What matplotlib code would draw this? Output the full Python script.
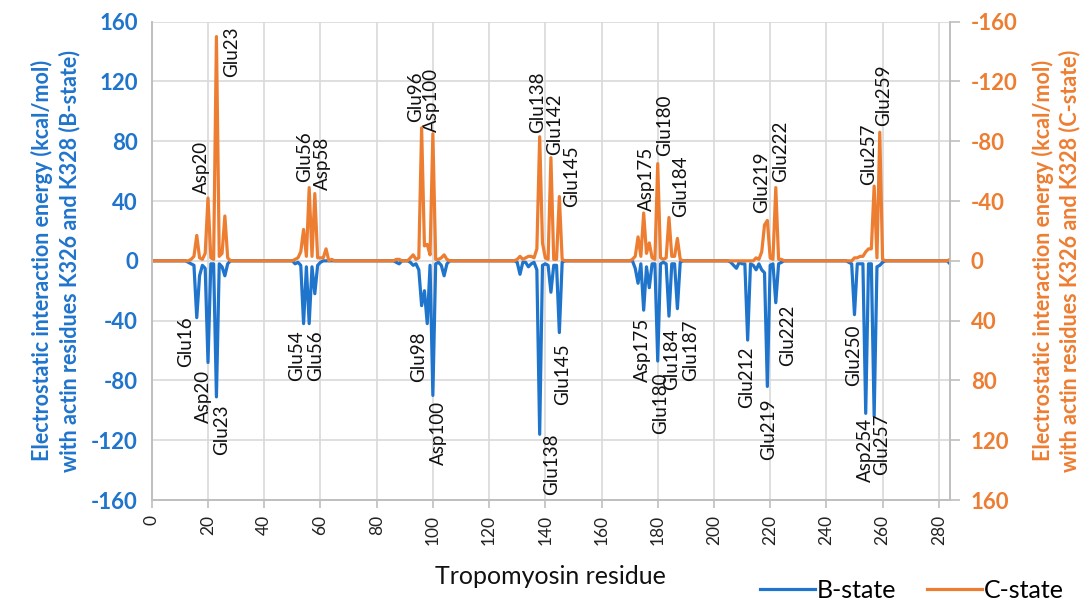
import matplotlib
matplotlib.use("Agg")
import matplotlib.pyplot as plt
import numpy as np

plt.rcParams['font.family'] = ['Lato', 'DejaVu Sans']
plt.rcParams['axes.unicode_minus'] = False

# tropomyosin residues 1..284
n_res = 284

# B-state, non-zero residues (kcal/mol)
b_res = [13, 14, 15, 16, 17, 18, 19, 20, 21, 22, 23, 24, 25, 26, 27,
         51, 52, 53, 54, 55, 56, 57, 58, 59, 60,
         87, 88, 92, 93, 94, 95, 96, 97, 98, 99, 100, 101, 102, 103, 104, 105,
         130, 131, 132, 133, 134, 135, 136, 137, 138, 139, 140, 141, 142, 143, 144, 145, 146,
         172, 173, 174, 175, 176, 177, 178, 179, 180, 181, 182, 183, 184, 185, 186, 187, 188,
         206, 207, 208, 209, 210, 211, 212, 213, 214, 215, 216, 217, 218, 219, 220, 221, 222, 223, 224,
         248, 249, 250, 251, 252, 253, 254, 255, 256, 257, 258, 259, 260, 284]
b_val = [-1, -2, -3, -38, -10, -3, -5, -68, -2, -2, -91, -2, -4, -10, -2,
         -2, -1, -3, -42, -4, -42, -4, -22, -3, -1,
         -1, -2, -1, -3, -2, -6, -30, -20, -42, -3, -90, -2, -1, -3, -10, -2,
         -1, -9, -1, -1, -4, -2, -1, -6, -116, -3, -2, -3, -21, -3, -3, -48, -1,
         -5, -15, -2, -33, -4, -18, -2, -2, -67, -2, -1, -2, -37, -2, -2, -32, -1,
         -1, -3, -5, -1, -2, -2, -53, -2, -3, -6, -2, -6, -8, -84, -3, -2, -28, -2, -1,
         -1, -2, -36, -2, -2, -2, -102, -2, -2, -104, -4, -3, -1, -2]

# C-state, non-zero residues (kcal/mol)
c_res = [14, 15, 16, 17, 18, 19, 20, 21, 22, 23, 24, 25, 26, 27,
         51, 52, 53, 54, 55, 56, 57, 58, 59, 60, 61, 62, 64,
         87, 88, 92, 93, 94, 95, 96, 97, 98, 99, 100, 101, 102, 103, 104, 105,
         130, 131, 132, 133, 134, 135, 136, 137, 138, 139, 140, 141, 142, 143, 144, 145, 146,
         171, 172, 173, 174, 175, 176, 177, 178, 179, 180, 181, 182, 183, 184, 185, 186, 187, 188,
         215, 216, 217, 218, 219, 220, 221, 222, 223, 224,
         250, 251, 252, 253, 254, 255, 256, 257, 258, 259, 260, 284]
c_val = [-1, -3, -17, -2, -1, -5, -42, -2, -1, -150, -3, -5, -30, -2,
         -1, -2, -6, -21, -3, -49, -3, -45, -2, -2, -2, -8, -1,
         -1, -1, -2, -4, -1, -2, -89, -10, -11, -4, -85, -1, -1, -2, -4, -1,
         -1, -3, -1, -2, -3, -3, -2, -8, -83, -12, -2, -1, -69, -1, -1, -43, -1,
         -1, -3, -16, -3, -32, -5, -12, -2, -1, -65, -2, -1, -2, -29, -3, -3, -15, -1,
         -2, -1, -6, -24, -27, -2, -1, -49, -1, -1,
         -2, -2, -3, -3, -6, -8, -8, -50, -2, -86, -1, -1]

x_ticks = [0, 20, 40, 60, 80, 100, 120, 140, 160, 180, 200, 220, 240, 260, 280]
y_ticks = [-160, -120, -80, -40, 0, 40, 80, 120, 160]

# data labels: orange ones above the zero line, blue ones below
c_labels = ["Glu23", "Asp20", "Glu56", "Asp58", "Glu96", "Asp100", "Glu138", "Glu142",
            "Glu145", "Asp175", "Glu180", "Glu184", "Glu219", "Glu222", "Glu257", "Glu259"]
c_label_pos = [(28.5, 123), (17.8, 45), (54.2, 53), (60.8, 47.5), (93.7, 93), (99.6, 86.5),
               (137.2, 85.4), (143.3, 71), (149.2, 36.3), (176.1, 33), (182.3, 70), (188, 29.6),
               (217.1, 32), (223.6, 53), (255, 51), (260.4, 90)]
b_labels = ["Glu16", "Asp20", "Glu23", "Glu54", "Glu56", "Glu98", "Asp100", "Glu138", "Glu145",
            "Asp175", "Glu180", "Glu184", "Glu187", "Glu212", "Glu219", "Glu222", "Glu250",
            "Asp254", "Glu257"]
b_label_pos = [(12.2, -37.3), (18.4, -73), (24.7, -96.3), (51.6, -46.2), (58.4, -46.2),
               (94.9, -47.3), (102, -94), (142.3, -115.3), (146.1, -55), (174.7, -38.3),
               (180.9, -75), (185, -45), (191.6, -39.5), (211.7, -57.3), (219.4, -92),
               (226.2, -29.4), (249.7, -42.8), (254, -105), (259.8, -102)]

blue = '#1F74CC'
orange = '#ED7D31'
grid_c = '#D9D9D9'
spine_c = '#BFBFBF'

residue = np.arange(1, n_res + 1)
b_state = np.zeros(n_res)
b_state[np.array(b_res) - 1] = b_val
c_state = np.zeros(n_res)
c_state[np.array(c_res) - 1] = c_val

fig = plt.figure(figsize=(10.92, 6.01), dpi=100)
ax = fig.add_axes([0.139, 0.168, 0.731, 0.796])
ax2 = ax.twinx()

l1, = ax.plot(residue, b_state, color=blue, lw=2.3, label='B-state')
l2, = ax2.plot(residue, c_state, color=orange, lw=2.3, label='C-state')

ax.set_xlim(0, 284)
ax.set_ylim(-160, 160)
ax2.set_ylim(160, -160)
ax.set_xticks(x_ticks, labels=[str(v) for v in x_ticks], rotation=90,
              fontsize=12.5, color='#222222', va='top', ha='center')
ax.set_yticks(y_ticks, labels=[str(v) for v in y_ticks], fontsize=16,
              fontweight='bold', color=blue)
ax2.set_yticks(y_ticks, labels=[str(v) for v in y_ticks], fontsize=16,
               fontweight='bold', color=orange)

ax.grid(True, color=grid_c, lw=1.2)
ax.set_axisbelow(True)
ax.spines['top'].set_visible(False)
ax2.spines['top'].set_visible(False)
for s in ['left', 'bottom', 'right']:
    ax.spines[s].set_color(spine_c)
    ax2.spines[s].set_color(spine_c)
    ax.spines[s].set_linewidth(1.2)
    ax2.spines[s].set_linewidth(1.2)

ax.tick_params(axis='x', direction='out', length=6, width=1.2, color=spine_c, pad=5)
ax.tick_params(axis='y', length=0, pad=10)
ax2.tick_params(axis='y', direction='out', length=7, width=1.2, color=spine_c, pad=8)

ax.set_xlabel('Tropomyosin residue', fontsize=18, color='#111111', labelpad=14)
ax.set_ylabel('Electrostatic interaction energy (kcal/mol)\nwith actin residues K326 and K328 (B-state)',
              fontsize=15.5, fontweight='bold', color=blue, labelpad=8, linespacing=1.3)
ax2.set_ylabel('Electrostatic interaction energy (kcal/mol)\nwith actin residues K326 and K328 (C-state)',
               fontsize=15.5, fontweight='bold', color=orange, labelpad=10, linespacing=1.3)

for txt, (x, y) in zip(c_labels, c_label_pos):
    ax.text(x, y, txt, rotation=90, rotation_mode='anchor', ha='left', va='center',
            fontsize=13.5, color='#111111', zorder=5)
for txt, (x, y) in zip(b_labels, b_label_pos):
    ax.text(x, y, txt, rotation=90, rotation_mode='anchor', ha='right', va='center',
            fontsize=13.5, color='#111111', zorder=5)

fig.legend(handles=[l1, l2], loc='center', bbox_to_anchor=(0.835, 0.018), ncol=2,
           frameon=False, fontsize=18, handlelength=2.2, handletextpad=0.1,
           columnspacing=1.2, borderaxespad=0)

fig.savefig('out.png', dpi=100)
